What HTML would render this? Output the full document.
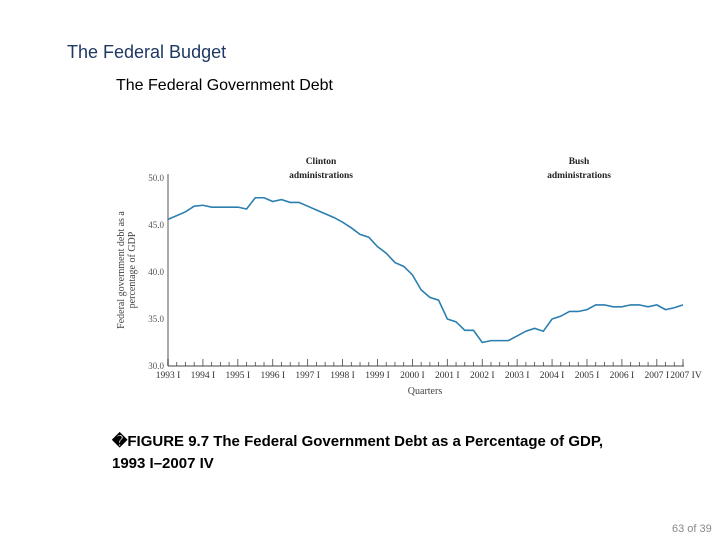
<!DOCTYPE html>
<html><head><meta charset="utf-8"><style>
body{margin:0;width:720px;height:540px;background:#fff;position:relative;overflow:hidden;font-family:"Liberation Sans",sans-serif}
.t{position:absolute;white-space:nowrap}
</style></head><body>
<div class="t" style="left:67px;top:42px;font-size:18px;color:#1f3864">The Federal Budget</div>
<div class="t" style="left:116px;top:77px;font-size:16px;color:#000">The Federal Government Debt</div>
<div class="t" style="left:112px;top:431px;font-size:15px;font-weight:bold;line-height:22px;color:#000">�FIGURE 9.7 The Federal Government Debt as a Percentage of GDP,<br>1993 I–2007 IV</div>
<div class="t" style="left:672px;top:523px;font-size:11px;color:#888">63 of 39</div>
<svg id="chart" width="720" height="540" style="position:absolute;left:0;top:0" font-family="Liberation Serif, serif"></svg>
<script>
const yTicks=[30,35,40,45,50];
const yearLabels=["1993 I","1994 I","1995 I","1996 I","1997 I","1998 I","1999 I","2000 I","2001 I","2002 I","2003 I","2004 I","2005 I","2006 I","2007 I"];
const debt=[45.6,46.0,46.4,47.0, 47.1,46.9,46.9,46.9, 46.9,46.7,47.9,47.9, 47.5,47.7,47.4,47.4,
47.0,46.6,46.2,45.8, 45.3,44.7,44.0,43.7, 42.7,42.0,41.0,40.6, 39.7,38.1,37.3,37.0,
35.0,34.7,33.8,33.8, 32.5,32.7,32.7,32.7, 33.2,33.7,34.0,33.7, 35.0,35.3,35.8,35.8,
36.0,36.5,36.5,36.3, 36.3,36.5,36.5,36.3, 36.5,36.0,36.2,36.5];
const svg=document.getElementById('chart');const NS='http://www.w3.org/2000/svg';
const x=i=>168+i*(683-168)/59, y=v=>366-(v-30)*9.4;
function mk(t,a,txt){const e=document.createElementNS(NS,t);for(const k in a)e.setAttribute(k,a[k]);if(txt!=null)e.textContent=txt;svg.appendChild(e);return e;}
let e=mk('line',{x1:168,y1:174,x2:168,y2:366,stroke:'#aaa','stroke-width':2});

e=mk('line',{x1:168,y1:366,x2:684,y2:366,stroke:'#444','stroke-width':1});

yTicks.forEach(v=>{const t=mk('text',{x:164,y:y(v)+3,'font-size':9,'text-anchor':'end',fill:'#555'},v.toFixed(1));
});
for(let i=0;i<60;i++){mk('line',{x1:x(i),y1:366,x2:x(i),y2:i%4==0?359:362,stroke:'#444','stroke-width':0.8});}
mk('line',{x1:683,y1:366,x2:683,y2:359,stroke:'#444','stroke-width':0.8});
yearLabels.forEach((l,k)=>{const t=mk('text',{x:x(k*4),y:378,'font-size':9.5,'text-anchor':'middle',fill:'#333'},l);
});
e=mk('text',{x:686,y:378,'font-size':9.5,'text-anchor':'middle',fill:'#333'},'2007 IV');

e=mk('text',{x:425,y:394,'font-size':10,'text-anchor':'middle',fill:'#444'},'Quarters');

e=mk('text',{transform:'translate(124,270) rotate(-90)','font-size':10,'text-anchor':'middle',fill:'#444'},'Federal government debt as a');

e=mk('text',{transform:'translate(135,270) rotate(-90)','font-size':10,'text-anchor':'middle',fill:'#444'},'percentage of GDP');

[["Clinton",321,164],["administrations",321,178],["Bush",579,164],["administrations",579,178]].forEach(a=>{
const t=mk('text',{x:a[1],y:a[2],'font-size':9.5,'font-weight':'bold','text-anchor':'middle',fill:'#222'},a[0]);
});
e=mk('polyline',{points:debt.map((v,i)=>x(i)+','+y(v)).join(' '),fill:'none',stroke:'#2b7fb0','stroke-width':1.6});

</script>
</body></html>
